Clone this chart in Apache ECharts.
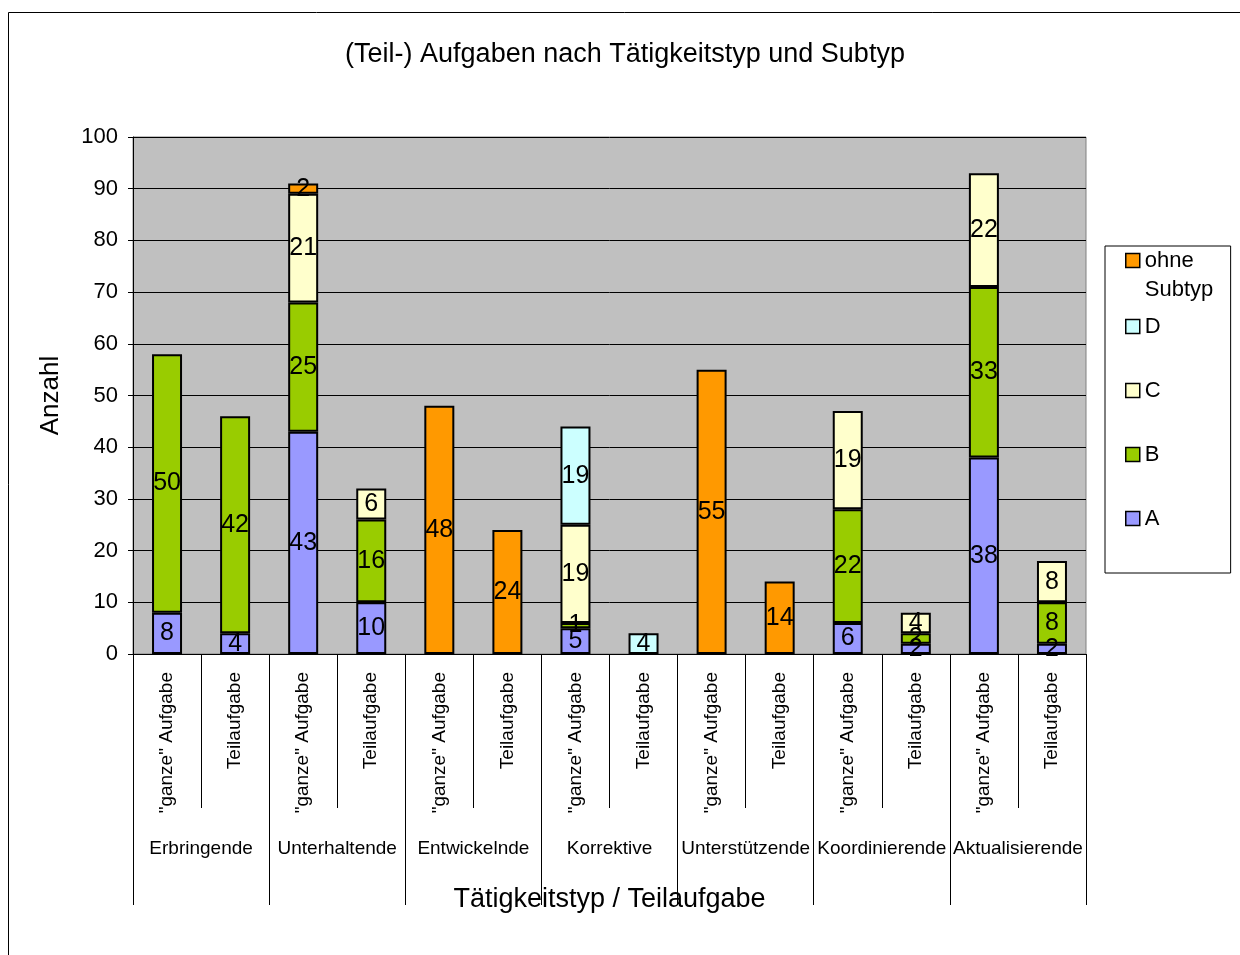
<!DOCTYPE html>
<html>
<head>
<meta charset="utf-8">
<script src="https://cdn.jsdelivr.net/npm/echarts@6/dist/echarts.min.js"></script>
<style>
html,body{margin:0;padding:0;background:#fff;}
#main{width:1240px;height:955px;}
</style>
</head>
<body>
<div id="main"></div>
<script>
const groups = ['Erbringende','Unterhaltende','Entwickelnde','Korrektive','Unterstützende','Koordinierende','Aktualisierende'];
const subLabels = ['"ganze" Aufgabe','Teilaufgabe','"ganze" Aufgabe','Teilaufgabe','"ganze" Aufgabe','Teilaufgabe','"ganze" Aufgabe','Teilaufgabe','"ganze" Aufgabe','Teilaufgabe','"ganze" Aufgabe','Teilaufgabe','"ganze" Aufgabe','Teilaufgabe'];
const seriesA    = [8, 4, 43, 10, null, null, 5, null, null, null, 6, 2, 38, 2];
const seriesB    = [50, 42, 25, 16, null, null, 1, null, null, null, 22, 2, 33, 8];
const seriesC    = [null, null, 21, 6, null, null, 19, null, null, null, 19, 4, 22, 8];
const seriesD    = [null, null, null, null, null, null, 19, 4, null, null, null, null, null, null];
const seriesOhne = [null, null, 2, null, 48, 24, null, null, 55, 14, null, null, null, null];
const yTicks = [0,10,20,30,40,50,60,70,80,90,100];

const FONT = 'Liberation Sans, Arial, sans-serif';
const chart = echarts.init(document.getElementById('main'));

function mk(name, data, color) {
  return {
    name: name, type: 'bar', stack: 'all', data: data,
    xAxisIndex: 0, yAxisIndex: 0,
    barWidth: 30,
    itemStyle: {color: color, borderColor: '#000', borderWidth: 2},
    label: {show: true, position: 'inside', color: '#000', fontSize: 25, fontFamily: FONT},
    emphasis: {disabled: true}
  };
}

chart.setOption({
  animation: false,
  backgroundColor: '#fff',
  title: {
    text: '(Teil-) Aufgaben nach Tätigkeitstyp und Subtyp',
    left: 620, top: 36, textAlign: 'center',
    textStyle: {fontFamily: FONT, fontSize: 27, fontWeight: 'normal', color: '#000'}
  },
  graphic: [{
    type: 'rect', z: -10, silent: true,
    shape: {x: 8.5, y: 12.5, width: 1300, height: 1000},
    style: {fill: 'none', stroke: '#000', lineWidth: 1}
  }],
  legend: [{
    data: ['D','C','B','A'],
    orient: 'vertical', left: 1105, top: 246,
    padding: [66, 70, 40, 20],
    itemGap: 35, itemWidth: 14, itemHeight: 14,
    backgroundColor: '#fff', borderColor: '#000', borderWidth: 1,
    icon: 'rect',
    itemStyle: {borderColor: '#000', borderWidth: 1.5},
    textStyle: {fontFamily: FONT, fontSize: 22, color: '#000', lineHeight: 29},
    selectedMode: false
  }, {
    data: ['ohne Subtyp'],
    orient: 'vertical', left: 1125, top: 217, z: 10,
    padding: 0,
    itemWidth: 14, itemHeight: 14, icon: 'rect',
    itemStyle: {borderColor: '#000', borderWidth: 1.5},
    formatter: function () { return '\nohne\nSubtyp'; },
    textStyle: {fontFamily: FONT, fontSize: 22, color: '#000', lineHeight: 29},
    selectedMode: false
  }],
  grid: {
    left: 133, right: 154, top: 137, bottom: 301,
    show: true, backgroundColor: '#c0c0c0', borderColor: '#808080', borderWidth: 1
  },
  xAxis: [{
    type: 'category', data: subLabels, gridIndex: 0, position: 'bottom',
    axisLine: {show: true, lineStyle: {color: '#000', width: 1}},
    axisTick: {show: true, interval: 0, length: 154, lineStyle: {color: '#000', width: 1}},
    axisLabel: {interval: 0, rotate: 90, margin: 18, fontFamily: FONT, fontSize: 19, color: '#000'},
    splitLine: {show: false}
  }, {
    type: 'category', data: groups, gridIndex: 0, position: 'bottom',
    axisLine: {show: true, lineStyle: {color: '#000', width: 1}},
    axisTick: {show: true, interval: 0, length: 251, lineStyle: {color: '#000', width: 1}},
    axisLabel: {interval: 0, margin: 185, fontFamily: FONT, fontSize: 19, color: '#000'},
    name: 'Tätigkeitstyp / Teilaufgabe', nameLocation: 'middle', nameGap: 232,
    nameTextStyle: {fontFamily: FONT, fontSize: 27, color: '#000'},
    splitLine: {show: false}
  }],
  yAxis: {
    type: 'value', min: 0, max: 100, interval: 10,
    name: 'Anzahl', nameLocation: 'middle', nameGap: 69,
    nameTextStyle: {fontFamily: FONT, fontSize: 26, color: '#000'},
    axisLine: {show: true, lineStyle: {color: '#000', width: 1}},
    axisTick: {show: true, length: 5, lineStyle: {color: '#000'}},
    axisLabel: {margin: 15, fontFamily: FONT, fontSize: 22, color: '#000',
      formatter: function (v) { return yTicks.indexOf(v) >= 0 ? String(v) : ''; }},
    splitLine: {show: true, lineStyle: {color: '#000', width: 1}}
  },
  series: [
    mk('A', seriesA, '#9999ff'),
    mk('B', seriesB, '#99cc00'),
    mk('C', seriesC, '#ffffcc'),
    mk('D', seriesD, '#ccffff'),
    mk('ohne Subtyp', seriesOhne, '#ff9900')
  ]
});
</script>
</body>
</html>
